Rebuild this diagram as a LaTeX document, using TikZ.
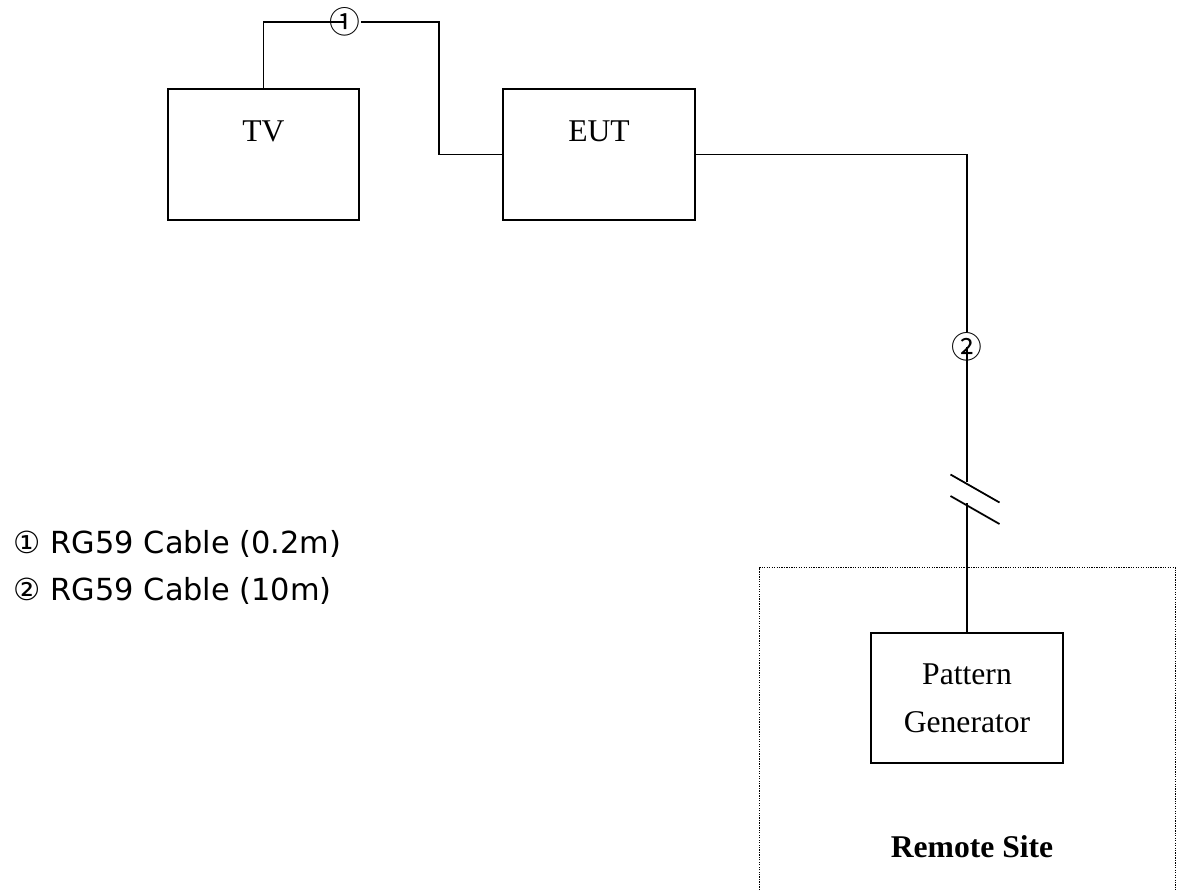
\documentclass[tikz,border=0pt]{standalone}
\usepackage{fontspec}
\setmainfont{Liberation Serif}
\newfontfamily\legendfont{DejaVu Sans}
\newfontfamily\circfont{Noto Sans CJK JP}
\usetikzlibrary{positioning}

\begin{document}
\begin{tikzpicture}[line width=1pt,
  every node/.style={font=\fontsize{18}{27.3}\selectfont},
  unit/.style={draw,minimum width=3.83cm,minimum height=2.62cm,inner sep=0pt},
  circnum/.style={inner sep=0pt,font=\circfont\fontsize{17.5}{17.5}\selectfont},
  legend/.style={anchor=base west,inner sep=0pt,font=\legendfont\fontsize{17.3}{20}\selectfont}]
\useasboundingbox (0,0) rectangle (23.7,-17.8);
\node[unit,label={[name=tvl,yshift=0.46cm]center:TV}] (tv) at (5.27,-3.09) {};
\node[unit,label={[name=eutl,yshift=0.46cm]center:EUT}] (eut) at (11.98,-3.09) {};
\node[unit,minimum height=2.6cm,align=center] (pg) at (19.34,-13.96) {Pattern\\Generator};
\node[circnum] (c1) at (6.9,-0.44) {①};
\node[circnum] (c2) at (19.34,-6.94) {②};
\coordinate (k1) at (8.78,-3.09);
\coordinate (b1) at (19.34,-9.64);
\coordinate (b2) at (19.34,-10.06);
% cable 1
\draw (tv.north) |- (c1.center);
\draw (c1.east) -| (k1) -- (eut.west);
% cable 2
\draw (eut.east) -| (c2.north);
\draw (c2.center) -- (b1);
\draw (b2) -- (pg.north);
\draw (19.01,-9.49) -- (19.99,-10.05);
\draw (19.01,-9.92) -- (19.99,-10.48);
% remote site
\draw[line width=0.8pt,dash pattern=on 0.7pt off 0.7pt] (15.19,-17.8) -- (15.19,-11.35) -- (23.51,-11.35) -- (23.51,-17.8);
\node[font=\bfseries\fontsize{18}{20}\selectfont] (rs) at (19.44,-16.94) {Remote Site};
\node[legend] (l1) at (0.26,-11.06) {① RG59 Cable (0.2m)};
\node[legend] (l2) at (0.26,-12.0) {② RG59 Cable (10m)};
\end{tikzpicture}
\end{document}
